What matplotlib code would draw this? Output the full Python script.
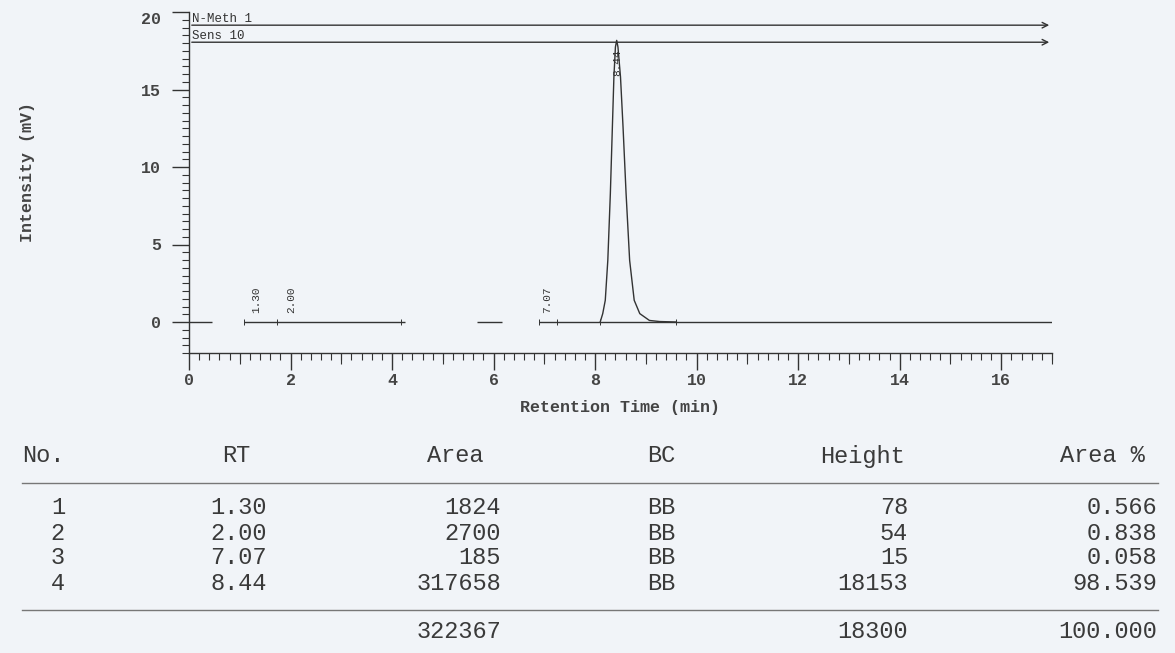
import matplotlib.pyplot as plt
from matplotlib.ticker import MultipleLocator, FixedLocator, FuncFormatter

# chromatogram trace (time in min, signal in mV)
peak_time = [8.10, 8.15, 8.20, 8.25, 8.30, 8.34, 8.37, 8.40, 8.425,
             8.45, 8.50, 8.55, 8.61, 8.68, 8.77, 8.88, 9.07, 9.27, 9.60]
peak_mv = [0.0, 0.54, 1.40, 3.98, 8.28, 12.58, 15.81, 17.74, 18.17,
           17.74, 15.81, 12.58, 8.28, 3.98, 1.40, 0.54, 0.10, 0.03, 0.0]

# pieces of baseline that were printed (gaps in between)
base_start = [0.0, 1.09, 5.68, 6.89]
base_end = [0.45, 4.26, 6.16, 17.0]

# peak start / end markers on the baseline
marker_time = [1.09, 1.74, 4.18, 6.90, 7.24, 8.09, 9.60]

# peak labels on the trace
label_rt = ["1.30", "2.00", "7.07", "8.44"]
label_x = [1.32, 2.01, 7.06, 8.43]
label_y = [0.6, 0.6, 0.6, 15.9]

# result table
no = ["1", "2", "3", "4"]
rt = ["1.30", "2.00", "7.07", "8.44"]
area = ["1824", "2700", "185", "317658"]
bc = ["BB", "BB", "BB", "BB"]
height = ["78", "54", "15", "18153"]
area_pct = ["0.566", "0.838", "0.058", "98.539"]
total_area = "322367"
total_height = "18300"
total_pct = "100.000"

W, H = 1175, 653
paper = "#f1f4f8"
ink = "#333333"
mono = "Liberation Mono"

fig = plt.figure(figsize=(W / 100, H / 100), dpi=100, facecolor=paper)
ax = fig.add_axes([189 / W, 1 - 353 / H, (1052 - 189) / W, 341 / H])
ax.set_facecolor(paper)

ax.hlines([0] * len(base_start), base_start, base_end, color=ink, lw=1.0)
ax.plot(peak_time, peak_mv, color=ink, lw=1.0)
ax.vlines(marker_time, -0.2, 0.2, color=ink, lw=0.7)

for s, x, y in zip(label_rt, label_x, label_y):
    ax.text(x, y, s, rotation=90, ha="center", va="bottom", fontsize=8,
            family=mono, color=ink)

# method / sensitivity event arrows
ax.annotate("", xy=(17.0, 19.15), xytext=(0, 19.15),
            arrowprops=dict(arrowstyle="->", color=ink, lw=1.0), annotation_clip=False)
ax.annotate("", xy=(17.0, 18.05), xytext=(0, 18.05),
            arrowprops=dict(arrowstyle="->", color=ink, lw=1.0), annotation_clip=False)
ax.text(0.05, 19.17, "N-Meth 1", fontsize=9, family=mono, color=ink, va="bottom")
ax.text(0.05, 18.07, "Sens 10", fontsize=9, family=mono, color=ink, va="bottom")

ax.set_xlim(0, 17)
ax.set_ylim(-2, 20)
for side in ["top", "right"]:
    ax.spines[side].set_visible(False)
for side in ["left", "bottom"]:
    ax.spines[side].set_color(ink)
    ax.spines[side].set_linewidth(1.0)

ax.xaxis.set_major_locator(MultipleLocator(2))
ax.xaxis.set_minor_locator(MultipleLocator(0.2))
ax.yaxis.set_major_locator(MultipleLocator(5))
ax.yaxis.set_minor_locator(MultipleLocator(0.5))
# the "20" is printed a bit lower than its tick, so it is drawn separately
ax.yaxis.set_major_formatter(FuncFormatter(lambda v, p: "" if v >= 20 else "%d" % v))
ax.tick_params(which="major", length=12, width=1.0, color=ink, labelcolor="#444444")
ax.tick_params(which="minor", length=5, width=0.8, color=ink)
ax.tick_params(axis="x", which="major", pad=2.5)
ax.tick_params(axis="y", which="major", pad=8)

# odd minutes get a medium tick
sec = ax.secondary_xaxis("bottom")
sec.xaxis.set_major_locator(FixedLocator([1, 3, 5, 7, 9, 11, 13, 15, 17]))
sec.tick_params(length=8, width=0.8, color=ink, labelbottom=False)
sec.spines["bottom"].set_visible(False)

for lab in ax.get_xticklabels() + ax.get_yticklabels():
    lab.set_family(mono)
    lab.set_fontweight("bold")
    lab.set_fontsize(12)

ax.annotate("20", xy=(0, 20), xytext=(-28, -7), textcoords="offset pixels",
            ha="right", va="center", family=mono, fontweight="bold", fontsize=12,
            color="#444444", annotation_clip=False)

ax.set_xlabel("Retention Time (min)", family=mono, fontweight="bold",
              fontsize=12, color="#444444")
ax.set_ylabel("Intensity (mV)", family=mono, fontweight="bold",
              fontsize=12, color="#444444")
ax.xaxis.set_label_coords((620 - 189) / (1052 - 189), -(400 - 353) / 341)
ax.yaxis.set_label_coords(-(189 - 35) / (1052 - 189), (353 - 172) / 341)


def put(x, y, s, ha="left"):
    fig.text(x / W, 1 - y / H, s, ha=ha, va="center", fontsize=17,
             family=mono, color="#3a3a3a")


# header
put(22, 456, "No.")
put(222, 456, "RT")
put(427, 456, "Area")
put(647, 456, "BC")
put(820, 456, "Height")
put(1060, 456, "Area %")

fig.add_artist(plt.Line2D([22 / W, 1158 / W], [1 - 483 / H, 1 - 483 / H],
                          color="#777777", lw=1.0))

row_y = [508, 533, 558, 584]
for i, y in enumerate(row_y):
    put(65, y, no[i], "right")
    put(267, y, rt[i], "right")
    put(501, y, area[i], "right")
    put(647, y, bc[i])
    put(908, y, height[i], "right")
    put(1157, y, area_pct[i], "right")

fig.add_artist(plt.Line2D([22 / W, 1158 / W], [1 - 610 / H, 1 - 610 / H],
                          color="#777777", lw=1.0))

put(501, 632, total_area, "right")
put(908, 632, total_height, "right")
put(1157, 632, total_pct, "right")

fig.savefig("out.png", dpi=100, facecolor=paper)
